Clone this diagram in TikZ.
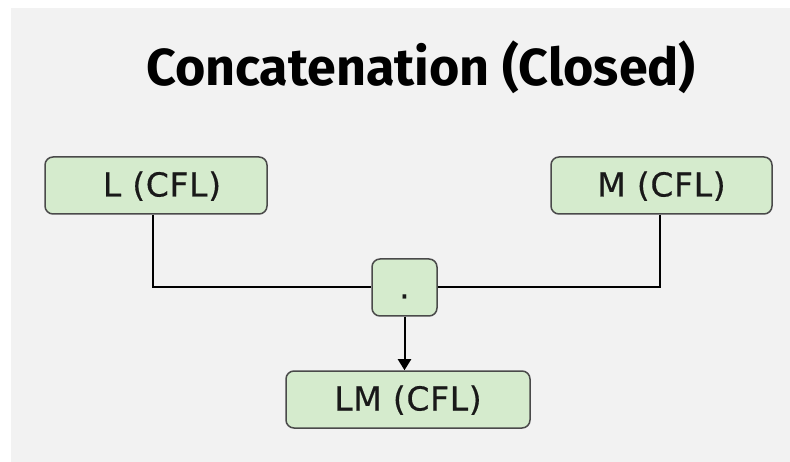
\documentclass[tikz,border=0pt]{standalone}
\usepackage{fontspec}
\setmainfont{DejaVu Sans}[LetterSpace=2, FakeBold=0.4]
\newfontfamily\headfont{Fira Sans}
\usepackage{tikz}
\usetikzlibrary{arrows.meta,positioning,calc}
\definecolor{bggrey}{HTML}{F2F2F2}
\definecolor{cflgreen}{HTML}{D5EBCD}
\definecolor{cflframe}{HTML}{4A4A4A}

\begin{document}
\begin{tikzpicture}[x=1pt, y=-1pt,
    every node/.style={font=\fontsize{33}{36}\selectfont},
    cflbox/.style={draw=cflframe, line width=1.5pt, fill=cflgreen,
      rounded corners=8pt, minimum height=57pt, inner sep=0pt,
      text height=24pt, text depth=2pt, text=black!90},
    link/.style={line width=2pt, black}]
  % canvas
  \fill[white] (0,0) rectangle (790,462);
  \fill[bggrey] (11,8) rectangle (790,462);
  \useasboundingbox (0,0) rectangle (790,462);
  % heading
  \node[font=\headfont\bfseries\fontsize{52}{56}\selectfont] (title) at (421,67) {Concatenation (Closed)};
  % the two languages
  \node[cflbox, minimum width=222pt] (lang) at (156,185.5) {\hspace{12pt}L (CFL)};
  \node[cflbox, minimum width=221pt] (mlang) at (661.5,185.5) {M (CFL)};
  % concatenation operator
  \node[cflbox, minimum width=65pt] (op) at (404.5,287.5) {.};
  % result
  \node[cflbox, minimum width=244pt] (res) at (408,399.5) {LM (CFL)\hspace{18pt}};
  % links
  \draw[link] ([xshift=-3pt]lang.south) |- (op.west);
  \draw[link] ([xshift=-1.5pt]mlang.south) |- (op.east);
  \draw[link, -{Triangle[length=11pt,width=13pt]}] (op.south) -- (op.south |- res.north);
\end{tikzpicture}
\end{document}
